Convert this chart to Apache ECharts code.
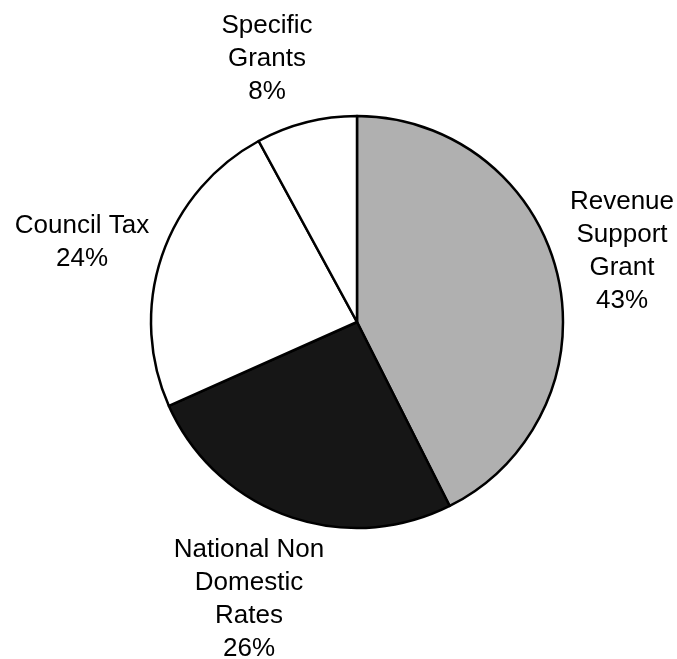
<!DOCTYPE html>
<html>
<head>
<meta charset="utf-8">
<script src="https://cdn.jsdelivr.net/npm/echarts@6/dist/echarts.min.js"></script>
<style>
html,body{margin:0;padding:0;background:#fff;}
#chart{width:677px;height:659px;}
</style>
</head>
<body>
<div id="chart"></div>
<script>
var categories = ['Revenue\nSupport\nGrant', 'National Non\nDomestic\nRates', 'Council Tax', 'Specific\nGrants'];
var percentValues = [43, 26, 24, 8];

var sliceColors = ['#b0b0b0', '#161616', '#ffffff', '#ffffff'];
var labelPos = [[622, 251], [249, 599], [82, 242], [267, 59]];

var chart = echarts.init(document.getElementById('chart'), null, {renderer: 'canvas'});
var data = categories.map(function (c, i) {
  return {name: c, value: percentValues[i], itemStyle: {color: sliceColors[i]}};
});
chart.setOption({
  animation: false,
  backgroundColor: '#ffffff',
  series: [{
    type: 'pie',
    center: [357, 322],
    radius: [0, 206],
    startAngle: 90,
    clockwise: true,
    data: data,
    itemStyle: {borderColor: '#000000', borderWidth: 2.5},
    emphasis: {disabled: true},
    labelLine: {show: false},
    label: {
      show: true,
      position: 'outside',
      overflow: 'none',
      formatter: function (p) { return p.name + '\n' + p.value + '%'; },
      fontFamily: 'Liberation Sans, Arial, sans-serif',
      fontSize: 26,
      lineHeight: 33,
      color: '#000000',
      align: 'center'
    },
    labelLayout: function (params) {
      var pos = labelPos[params.dataIndex];
      return {x: pos[0], y: pos[1], align: 'center', verticalAlign: 'middle', hideOverlap: false, moveOverlap: null};
    }
  }]
});
</script>
</body>
</html>
